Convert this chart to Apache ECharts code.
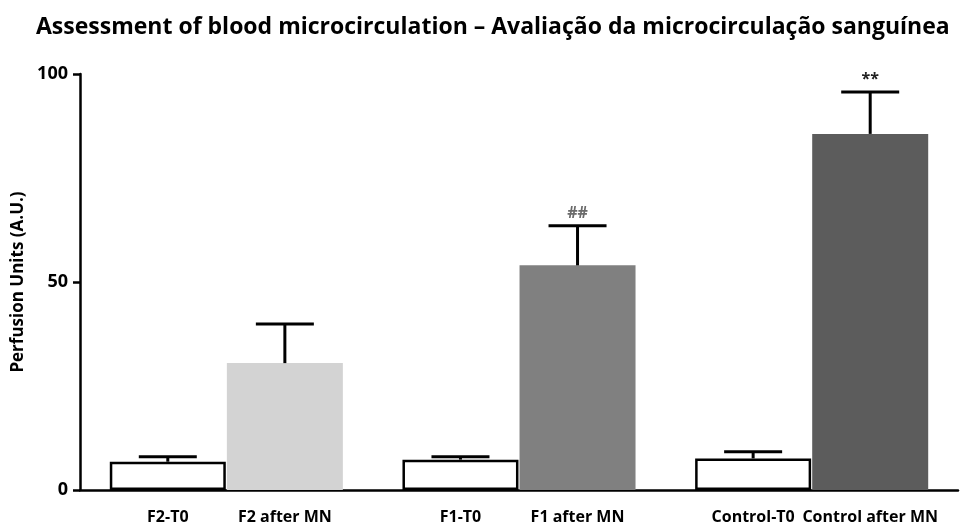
<!DOCTYPE html>
<html lang="en">
<head>
<meta charset="UTF-8">
<title>Perfusion</title>
<script src="https://cdn.jsdelivr.net/npm/echarts@6/dist/echarts.min.js"></script>
<style>
  html, body { margin: 0; padding: 0; background: #fff; }
  #main { width: 960px; height: 529px; }
</style>
</head>
<body>
<div id="main"></div>
<script>
// data
var categories = ['F2-T0', 'F2 after MN', 'F1-T0', 'F1 after MN', 'Control-T0', 'Control after MN'];
var means = [6.8, 30.5, 7.3, 54.0, 7.6, 85.6];
var errTop = [8.0, 39.9, 8.0, 63.5, 9.2, 95.7];
var marks = ['', '', '', '##', '', '**'];
var barColors = ['#ffffff', '#d3d3d3', '#ffffff', '#808080', '#ffffff', '#5c5c5c'];
var yTicks = [0, 50, 100];

// bars sit in pairs on a finer slot grid so that the groups get gaps between them
var slots = [1, 3, 6, 8, 11, 13];
var nSlots = 15;

var axisData = [];
for (var i = 0; i < nSlots; i++) axisData.push('_' + i);
var barData = [];
for (var i = 0; i < nSlots; i++) barData.push(null);
var errData = [];
for (var k = 0; k < categories.length; k++) {
    axisData[slots[k]] = categories[k];
    barData[slots[k]] = {
        value: means[k],
        itemStyle: barColors[k] === '#ffffff'
            ? { color: '#ffffff', borderColor: '#000', borderWidth: 2.5 }
            : { color: barColors[k] }
    };
    errData.push([slots[k], means[k], errTop[k]]);
}

var font = '"Open Sans", sans-serif';
var chart = echarts.init(document.getElementById('main'));

chart.setOption({
    animation: false,
    title: {
        text: 'Assessment of blood microcirculation \u2013 Avaliação da microcirculação sanguínea',
        left: 31,
        top: 11,
        textStyle: { fontFamily: font, fontWeight: 'bold', fontSize: 23, color: '#000' }
    },
    grid: { left: 80, right: 2, top: 74, bottom: 39 },
    xAxis: {
        type: 'category',
        data: axisData,
        axisLine: { lineStyle: { color: '#000', width: 2.5 } },
        axisTick: {
            alignWithLabel: true,
            length: 7,
            lineStyle: { color: '#000', width: 2.5 },
            interval: function (idx, v) { return v.charAt(0) !== '_'; }
        },
        axisLabel: {
            interval: 0,
            margin: 19,
            fontFamily: font, fontWeight: 'bold', fontSize: 16, color: '#000',
            formatter: function (v) { return v.charAt(0) === '_' ? '' : v; }
        }
    },
    yAxis: {
        type: 'value',
        min: yTicks[0],
        max: yTicks[yTicks.length - 1],
        interval: 50,
        name: 'Perfusion Units (A.U.)',
        nameLocation: 'middle',
        nameGap: 50,
        nameTextStyle: { fontFamily: font, fontWeight: 'bold', fontSize: 17, color: '#000' },
        splitLine: { show: false },
        axisLine: { show: true, lineStyle: { color: '#000', width: 2.5 } },
        axisTick: { show: true, length: 7, lineStyle: { color: '#000', width: 2.5 } },
        axisLabel: { margin: 12, fontFamily: font, fontWeight: 'bold', fontSize: 18, color: '#000' }
    },
    series: [
        {
            type: 'bar',
            data: barData,
            barWidth: 116,
            barGap: '-100%'
        },
        {
            type: 'custom',
            z: 5,
            data: errData,
            encode: { x: 0, y: [1, 2] },
            renderItem: function (params, api) {
                var base = api.coord([api.value(0), api.value(1)]);
                var top = api.coord([api.value(0), api.value(2)]);
                var half = 29;
                var style = { stroke: '#000', lineWidth: 3 };
                var children = [
                    { type: 'line', shape: { x1: base[0], y1: base[1], x2: top[0], y2: top[1] }, style: style },
                    { type: 'line', shape: { x1: top[0] - half, y1: top[1], x2: top[0] + half, y2: top[1] }, style: style }
                ];
                var m = marks[params.dataIndex];
                if (m) {
                    children.push({
                        type: 'text',
                        style: {
                            text: m,
                            x: top[0], y: top[1] - 12,
                            align: 'center', verticalAlign: 'middle',
                            fontFamily: font, fontWeight: 'bold', fontSize: 16,
                            fill: m === '##' ? '#6a6a6a' : '#222'
                        }
                    });
                }
                return { type: 'group', children: children };
            }
        }
    ]
});
</script>
</body>
</html>
